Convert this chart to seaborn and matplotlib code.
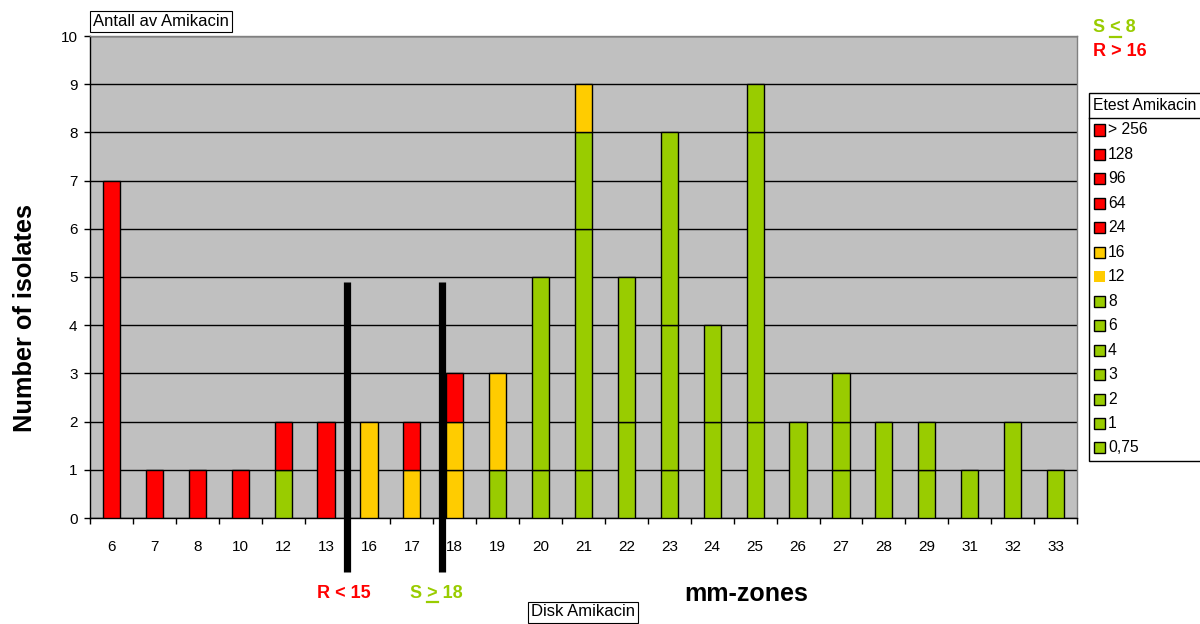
import numpy as np
import matplotlib
matplotlib.use("Agg")
import matplotlib.pyplot as plt
from matplotlib.patches import Rectangle
from matplotlib.lines import Line2D
import seaborn as sns

# Inhibition-zone diameters (mm) on the x axis
zones = ["6", "7", "8", "10", "12", "13", "16", "17", "18", "19", "20", "21",
         "22", "23", "24", "25", "26", "27", "28", "29", "31", "32", "33"]

# Etest MIC classes, top-to-bottom as listed in the legend
mic_labels = ["> 256", "128", "96", "64", "24", "16", "12",
              "8", "6", "4", "3", "2", "1", "0,75"]

# Number of isolates per zone for each MIC class
n_gt256 = [7, 0, 0, 1, 0, 0, 0, 0, 0, 0, 0, 0, 0, 0, 0, 0, 0, 0, 0, 0, 0, 0, 0]
n_128   = [0, 1, 0, 0, 0, 0, 0, 0, 0, 0, 0, 0, 0, 0, 0, 0, 0, 0, 0, 0, 0, 0, 0]
n_96    = [0, 0, 1, 0, 0, 0, 0, 0, 0, 0, 0, 0, 0, 0, 0, 0, 0, 0, 0, 0, 0, 0, 0]
n_64    = [0, 0, 0, 0, 0, 2, 0, 0, 0, 0, 0, 0, 0, 0, 0, 0, 0, 0, 0, 0, 0, 0, 0]
n_24    = [0, 0, 0, 0, 1, 0, 0, 1, 1, 0, 0, 0, 0, 0, 0, 0, 0, 0, 0, 0, 0, 0, 0]
n_16    = [0, 0, 0, 0, 0, 0, 2, 1, 1, 2, 0, 0, 0, 0, 0, 0, 0, 0, 0, 0, 0, 0, 0]
n_12    = [0, 0, 0, 0, 0, 0, 0, 0, 1, 0, 0, 1, 0, 0, 0, 0, 0, 0, 0, 0, 0, 0, 0]
n_8     = [0, 0, 0, 0, 0, 0, 0, 0, 0, 1, 0, 0, 0, 0, 0, 0, 0, 0, 0, 0, 0, 0, 0]
n_6     = [0, 0, 0, 0, 0, 0, 0, 0, 0, 0, 0, 0, 0, 0, 0, 0, 0, 0, 0, 0, 0, 0, 0]
n_4     = [0, 0, 0, 0, 1, 0, 0, 0, 0, 0, 0, 0, 0, 0, 0, 0, 0, 0, 0, 0, 0, 0, 0]
n_3     = [0, 0, 0, 0, 0, 0, 0, 0, 0, 0, 4, 0, 0, 0, 0, 1, 0, 1, 0, 0, 0, 0, 0]
n_2     = [0, 0, 0, 0, 0, 0, 0, 0, 0, 0, 1, 2, 3, 4, 2, 6, 2, 1, 2, 1, 1, 2, 1]
n_1     = [0, 0, 0, 0, 0, 0, 0, 0, 0, 0, 0, 5, 2, 3, 2, 2, 0, 1, 0, 1, 0, 0, 0]
n_075   = [0, 0, 0, 0, 0, 0, 0, 0, 0, 0, 0, 1, 0, 1, 0, 0, 0, 0, 0, 0, 0, 0, 0]

series = [n_gt256, n_128, n_96, n_64, n_24, n_16, n_12,
          n_8, n_6, n_4, n_3, n_2, n_1, n_075]

RED, YELLOW, GREEN = "#FF0000", "#FFCC00", "#99CC00"
colors = [RED] * 5 + [YELLOW] * 2 + [GREEN] * 7

W, H = 1200, 624
plt.rcParams["font.family"] = ["Liberation Sans", "DejaVu Sans"]
fig = plt.figure(figsize=(W / 100, H / 100), dpi=100, facecolor="white")
ax = fig.add_axes([90 / W, 1 - 518 / H, (1077 - 90) / W, (518 - 36) / H])
ax.set_facecolor("#C0C0C0")

# Stacked bars, lowest MIC class at the bottom
zones_arr = np.array(zones)
cum = np.zeros(len(zones))
for label, vals, col in reversed(list(zip(mic_labels, series, colors))):
    v = np.asarray(vals, dtype=float)
    m = v > 0
    if m.any():
        sns.barplot(x=zones_arr[m], y=v[m], order=zones, bottom=cum[m],
                    color=col, saturation=1, width=0.4, errorbar=None,
                    edgecolor="black", linewidth=1.0, ax=ax, zorder=3)
    cum += v

ax.set_xlim(-0.5, len(zones) - 0.5)
ax.set_ylim(0, 10)
ax.set_yticks(range(0, 11))
ax.set_xlabel("")
ax.set_ylabel("")
ax.set_axisbelow(True)
ax.yaxis.grid(True, color="black", linewidth=1.0, zorder=0)
ax.xaxis.grid(False)

# Tick marks between categories, labels centred under bars
ax.set_xticks(range(len(zones)))
ax.set_xticklabels(zones)
ax.set_xticks(np.arange(-0.5, len(zones), 1.0), minor=True)
ax.tick_params(axis="x", which="major", length=0, pad=16, labelsize=11)
ax.tick_params(axis="x", which="minor", length=4, width=1, color="black", direction="out")
ax.tick_params(axis="y", length=4, width=1, color="black", direction="out", pad=5, labelsize=11)

for side in ("left", "bottom"):
    ax.spines[side].set_color("black")
    ax.spines[side].set_linewidth(1.0)
for side in ("top", "right"):
    ax.spines[side].set_color("#808080")
    ax.spines[side].set_linewidth(1.0)

# Breakpoint markers for the disk test
for xb in (5.49, 7.70):
    ax.plot([xb, xb], [4.9, -1.12], color="black", linewidth=5.2,
            solid_capstyle="butt", clip_on=False, zorder=5)


def fx(px):
    return px / W


def fy(py):
    return 1 - py / H


renderer = fig.canvas.get_renderer()


def rule_text(x_px, y_px, head, sym, tail, color, underline):
    kw = dict(fontsize=13, fontweight="bold", color=color, va="center", ha="left")
    fig.text(fx(x_px), fy(y_px), head + sym + tail, **kw)
    if underline:
        tmp = fig.text(0, 0, head + sym, **kw)
        w_hs = tmp.get_window_extent(renderer).width
        tmp.remove()
        tmp = fig.text(0, 0, sym, **kw)
        w_s = tmp.get_window_extent(renderer).width
        tmp.remove()
        x1 = x_px + w_hs
        x0 = x1 - w_s
        fig.add_artist(Line2D([fx(x0), fx(x1)], [fy(y_px + 9), fy(y_px + 9)],
                              color=color, linewidth=1.6, transform=fig.transFigure))


rule_text(1093, 28, "S ", "<", " 8", GREEN, True)
rule_text(1093, 51, "R ", ">", " 16", RED, False)
rule_text(317, 593, "R ", "<", " 15", RED, False)
rule_text(410, 593, "S ", ">", " 18", GREEN, True)

box = dict(boxstyle="square,pad=0.18", facecolor="white", edgecolor="black", linewidth=0.8)
fig.text(fx(93), fy(21), "Antall av Amikacin", fontsize=12, va="center", ha="left", bbox=box)
fig.text(fx(531), fy(612), "Disk Amikacin", fontsize=12, va="center", ha="left", bbox=box)

fig.text(fx(25), fy(318), "Number of isolates", fontsize=18.3, fontweight="bold",
         rotation=90, ha="center", va="center")
fig.text(fx(746), fy(594), "mm-zones", fontsize=18, fontweight="bold",
         ha="center", va="center")

# Legend panel
fig.add_artist(Rectangle((fx(1089), fy(461)), (1215 - 1089) / W, (461 - 93) / H,
                         transform=fig.transFigure, facecolor="white",
                         edgecolor="black", linewidth=1.0, clip_on=False))
fig.add_artist(Line2D([fx(1089), fx(1215)], [fy(118), fy(118)], color="black",
                      linewidth=1.0, transform=fig.transFigure))
fig.text(fx(1093), fy(105), "Etest Amikacin", fontsize=11.3, va="center", ha="left")
for i, (label, col) in enumerate(zip(mic_labels, colors)):
    yc = 130 + i * 24.46
    edge = "none" if label == "12" else "black"
    fig.add_artist(Rectangle((fx(1094), fy(yc + 5.5)), 11 / W, 11 / H,
                             transform=fig.transFigure, facecolor=col,
                             edgecolor=edge, linewidth=1.0))
    fig.text(fx(1108), fy(yc), label, fontsize=11.3, va="center", ha="left")

fig.savefig("out.png", dpi=100, facecolor="white")
